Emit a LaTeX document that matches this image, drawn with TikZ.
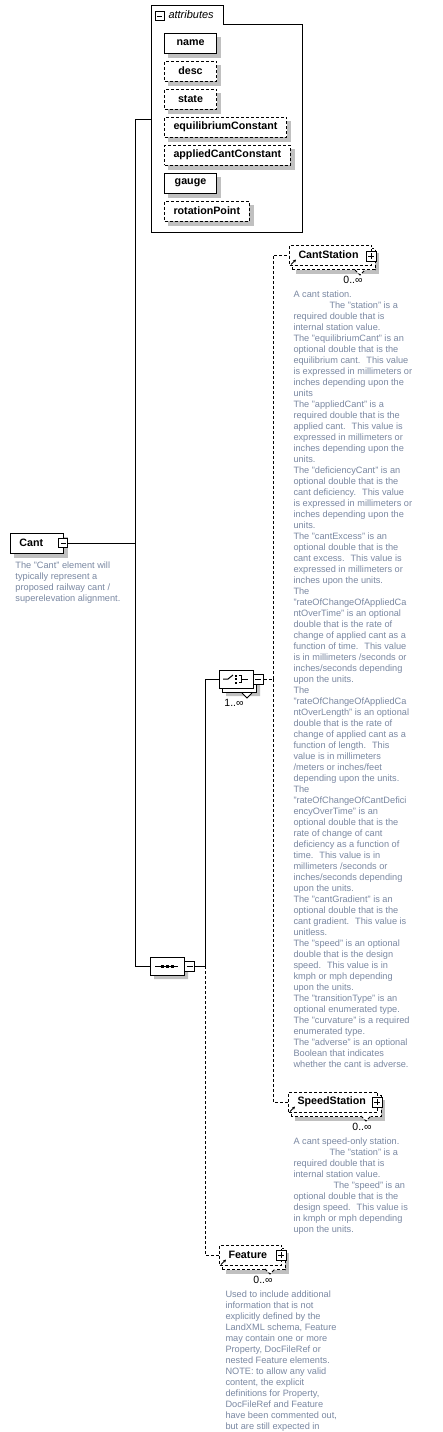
\documentclass[tikz,border=0pt]{standalone}
\usepackage{fontspec}
\setmainfont{Liberation Sans}
\usetikzlibrary{shapes.misc,arrows.meta,backgrounds}
\definecolor{desctext}{RGB}{122,136,162}
\definecolor{shadowgray}{RGB}{192,192,192}
\tikzset{
  box/.style={draw, fill=white, anchor=west, minimum height=20pt, inner xsep=9pt,
    inner ysep=0pt, font=\bfseries\fontsize{10.7}{13}\selectfont},
  opt/.style={dash pattern=on 3pt off 2pt},
  minus/.style={draw, fill=white, minimum size=9pt, inner sep=0pt,
    path picture={\draw [line width=0.8pt]
      ([xshift=2pt]path picture bounding box.west) -- ([xshift=-2pt]path picture bounding box.east);}},
  plus/.style={draw, fill=white, minimum size=10pt, inner sep=0pt,
    path picture={\draw [line width=0.8pt]
      ([xshift=2pt]path picture bounding box.west) -- ([xshift=-2pt]path picture bounding box.east)
      ([yshift=2pt]path picture bounding box.south) -- ([yshift=-2pt]path picture bounding box.north);}},
  comp/.style={chamfered rectangle, chamfered rectangle xsep=5pt, draw, fill=white,
    minimum width=34pt, minimum height=18pt, inner sep=0pt},
  desc/.style={anchor=north west, align=left, inner sep=0pt, text=desctext,
    font=\fontsize{9.2}{11}\selectfont},
  mult/.style={inner sep=0pt, font=\fontsize{10.5}{12}\selectfont}
}
% small reference arrow inside an element box
\newcommand{\refmark}[1]{\draw [-{Stealth[length=3pt,width=3pt]}, line width=0.8pt]
  ([shift={(2pt,1pt)}]#1.south west) -- ++(5,-5);}
% notch under a stacked box
\newcommand{\vnotch}[2][]{\draw [#1, fill=white]
  ([shift={(-16pt,-14pt)}]#2.center) -- ++(5,5) -- ++(5,-5);}

\begin{document}
\begin{tikzpicture}[x=1pt, y=-1pt, line width=1pt]
	\useasboundingbox (0,0) rectangle (443,1432);

	% attributes
	\draw (151,5) -- (223,5) -- (223,24) -- (302,24) -- (302,232) -- (151,232) -- cycle;
	\node [minus] (tgattr) at (159.5,16) {};
	\node [anchor=west, inner sep=0pt, font=\itshape\fontsize{11}{13}\selectfont]
	(attrs) at (168,15) {attributes};
	\node [box, minimum width=52pt] (name) at (164,43) {name};
	\node [box, opt, minimum width=52pt] (desc) at (164,71) {desc};
	\node [box, opt, minimum width=52pt] (state) at (164,99) {state};
	\node [box, opt] (eqc) at (164,127) {equilibriumConstant};
	\node [box, opt] (acc) at (164,155) {appliedCantConstant};
	\node [box, minimum width=52pt] (gauge) at (164,183) {gauge};
	\node [box, opt] (rotp) at (164,211) {rotationPoint};

	% Cant
	\node [box, text width=35pt, align=left] (cant) at (10,543) {Cant};
	\node [minus] (tgcant) at (63,543) {};
	\node [desc] (cantdesc) at (15,561)
	{The "Cant" element will\\
	typically represent a\\
	proposed railway cant /\\
	superelevation alignment.};

	% sequence and choice
	\node [comp] (seq) at (167,966) {};
	\draw (seq.center) ++(-12,0) -- ++(23,0);
	\foreach \d in {-5,0,5}
		\fill (seq.center) ++(\d-1.5,-1.5) rectangle ++(3,3);
	\node [minus, minimum size=10pt] (tgseq) at (189.5,966) {};

	\node [comp] (choice) at (236,679) {};
	\draw (choice.center) ++(-13,0) -- ++(5,0) -- ++(5,-4);
	\foreach \d in {-3.5,0,3.5}
		\fill (choice.center) ++(-1,\d-1) rectangle ++(2,2);
	\draw (choice.center) ++(2.5,-3.5) -- ++(3,0) -- ++(0,7) -- ++(-3,0);
	\draw (choice.center) ++(5.5,0) -- ++(6,0);
	\node [minus, minimum size=10pt] (tgchoice) at (258,679) {};
	\vnotch{tgchoice}
	\node [mult] (choicemult) at (234,703) {1..∞};

	% CantStation
	\node [box, opt, text width=64pt, align=left] (cs) at (289,255) {CantStation};
	\node [plus] (tgcs) at (371,256) {};
	\vnotch[opt]{tgcs}
	\refmark{cs}
	\node [mult] (csmult) at (353,280) {0..∞};
	\node [desc] (csdesc) at (293,290)
	{A cant station.\\
	\hspace*{36pt}The "station" is a\\
	required double that is\\
	internal station value.\\
	The "equilibriumCant" is an\\
	optional double that is the\\
	equilibrium cant.~ This value\\
	is expressed in millimeters or\\
	inches depending upon the\\
	units\\
	The "appliedCant" is a\\
	required double that is the\\
	applied cant.~ This value is\\
	expressed in millimeters or\\
	inches depending upon the\\
	units.\\
	The "deficiencyCant" is an\\
	optional double that is the\\
	cant deficiency.~ This value\\
	is expressed in millimeters or\\
	inches depending upon the\\
	units.\\
	The "cantExcess" is an\\
	optional double that is the\\
	cant excess.~ This value is\\
	expressed in millimeters or\\
	inches upon the units.\\
	The\\
	"rateOfChangeOfAppliedCa\\
	ntOverTime" is an optional\\
	double that is the rate of\\
	change of applied cant as a\\
	function of time.~ This value\\
	is in millimeters /seconds or\\
	inches/seconds depending\\
	upon the units.\\
	The\\
	"rateOfChangeOfAppliedCa\\
	ntOverLength" is an optional\\
	double that is the rate of\\
	change of applied cant as a\\
	function of length.~ This\\
	value is in millimeters\\
	/meters or inches/feet\\
	depending upon the units.\\
	The\\
	"rateOfChangeOfCantDefici\\
	encyOverTime" is an\\
	optional double that is the\\
	rate of change of cant\\
	deficiency as a function of\\
	time.~ This value is in\\
	millimeters /seconds or\\
	inches/seconds depending\\
	upon the units.\\
	The "cantGradient" is an\\
	optional double that is the\\
	cant gradient.~ This value is\\
	unitless.\\
	The "speed" is an optional\\
	double that is the design\\
	speed.~ This value is in\\
	kmph or mph depending\\
	upon the units.\\
	The "transitionType" is an\\
	optional enumerated type.\\
	The "curvature" is a required\\
	enumerated type.\\
	The "adverse" is an optional\\
	Boolean that indicates\\
	whether the cant is adverse.};

	% SpeedStation
	\node [box, opt, text width=71pt, align=left] (ss) at (288,1102) {SpeedStation};
	\node [plus] (tgss) at (377,1102) {};
	\vnotch[opt]{tgss}
	\refmark{ss}
	\node [mult] (ssmult) at (362,1127) {0..∞};
	\node [desc] (ssdesc) at (293,1137)
	{A cant speed-only station.\\
	\hspace*{36pt}The "station" is a\\
	required double that is\\
	internal station value.\\
	\hspace*{40pt}The "speed" is an\\
	optional double that is the\\
	design speed.~ This value is\\
	in kmph or mph depending\\
	upon the units.};

	% Feature
	\node [box, opt, text width=44pt, align=left] (feat) at (219,1255) {Feature};
	\node [plus] (tgfeat) at (281,1255) {};
	\vnotch[opt]{tgfeat}
	\refmark{feat}
	\node [mult] (featmult) at (263,1280) {0..∞};
	\node [desc] (featdesc) at (225,1290)
	{Used to include additional\\
	information that is not\\
	explicitly defined by the\\
	LandXML schema, Feature\\
	may contain one or more\\
	Property, DocFileRef or\\
	nested Feature elements.\\
	NOTE: to allow any valid\\
	content, the explicit\\
	definitions for Property,\\
	DocFileRef and Feature\\
	have been commented out,\\
	but are still expected in};

	% connectors
	\coordinate (trunktop) at (135,119);
	\coordinate (trunkbot) at (135,966);
	\coordinate (attrin) at (151,119);
	\coordinate (fork) at (205,966);
	\coordinate (cfork) at (273,679);
	\draw (tgcant.east) -- (tgcant.east -| trunktop);
	\draw (attrin) -- (trunktop) -- (trunkbot) -- (seq.west);
	\draw (tgseq.east) -- (fork) -- (fork |- choice.west) -- (choice.west);
	\draw [opt] (fork) |- (feat.west);
	\draw [opt] (tgchoice.east) -- (cfork);
	\draw [opt] (cfork) |- (cs.west);
	\draw [opt] (cfork) |- (ss.west);

	% shadows and stacked copies
	\begin{scope}[on background layer]
		\fill [white] (0,0) rectangle (443,1432);
		\foreach \n in {name,desc,state,eqc,acc,gauge,rotp,cant}
			\fill [shadowgray] ([shift={(4pt,-4pt)}]\n.south west)
			rectangle ([shift={(4pt,-4pt)}]\n.north east);
		\foreach \n in {cs,ss,feat} {
			\fill [shadowgray] ([shift={(7pt,-8pt)}]\n.south west)
			rectangle ([shift={(7pt,-8pt)}]\n.north east);
			\draw [opt, fill=white] ([shift={(3pt,-4pt)}]\n.south west)
			rectangle ([shift={(3pt,-4pt)}]\n.north east);
		}
		\node [comp, draw=none, fill=shadowgray] (seqshade) at ([shift={(4pt,-4pt)}]seq.center) {};
		\node [comp, draw=none, fill=shadowgray] (choiceshade) at ([shift={(7pt,-8pt)}]choice.center) {};
		\node [comp] (choiceback) at ([shift={(3pt,-4pt)}]choice.center) {};
	\end{scope}
\end{tikzpicture}
\end{document}
